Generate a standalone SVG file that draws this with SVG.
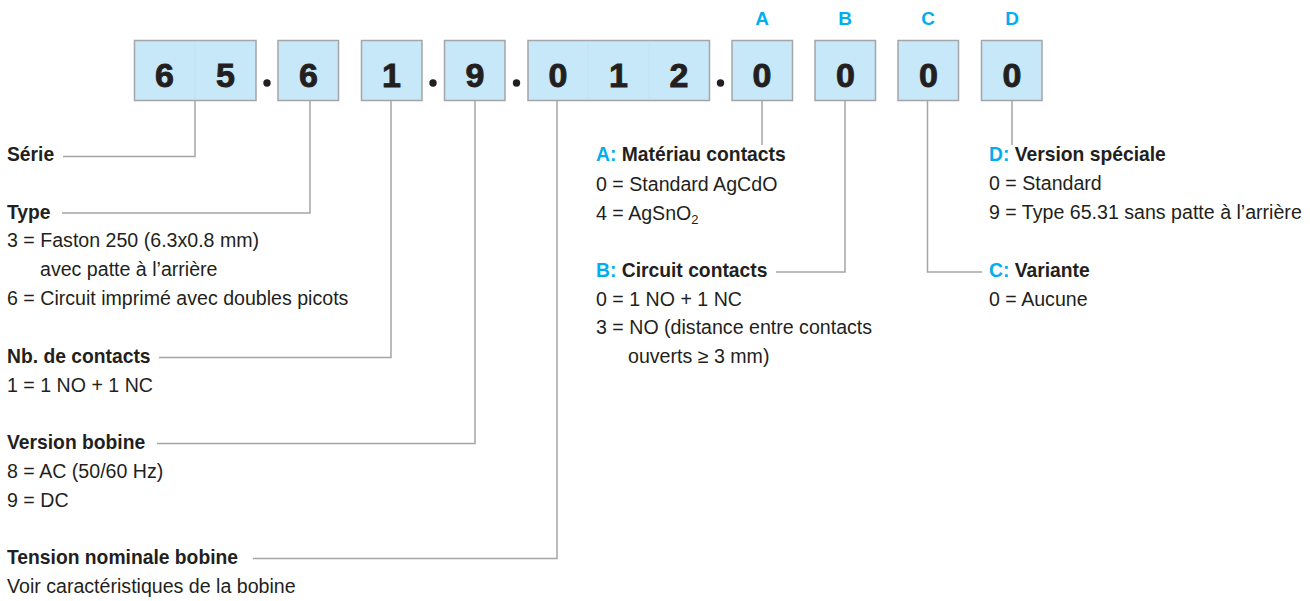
<svg xmlns="http://www.w3.org/2000/svg" width="1310" height="601" viewBox="0 0 1310 601">
<style>
.bx{fill:#c6e8f8;stroke:#a3a5a8;stroke-width:1.5}
.dv{stroke:#c0e3f4;stroke-width:1}
.dg{font-family:"Liberation Sans",Arial,sans-serif;font-weight:bold;font-size:34px;fill:#231f20;stroke:#231f20;stroke-width:0.9;text-anchor:middle}
.lt{font-family:"Liberation Sans",Arial,sans-serif;font-weight:bold;font-size:19px;fill:#00aeef;text-anchor:middle}
.dot{fill:#231f20}
.h{font-family:"Liberation Sans",Arial,sans-serif;font-weight:bold;font-size:19.3px;fill:#231f20}
.t{font-family:"Liberation Sans",Arial,sans-serif;font-size:19.6px;fill:#231f20}
.c{fill:#00aeef}
.ln{fill:none;stroke:#a3a5a8;stroke-width:1.5}
</style>
<g id="code">
<g id="box-65"><rect class="bx" x="134.5" y="40.5" width="121.5" height="60"/><line class="dv" x1="195" y1="41.5" x2="195" y2="99.5"/><text class="dg" x="164.5" y="87">6</text><text class="dg" x="225.5" y="87">5</text></g>
<circle class="dot" cx="267" cy="83" r="3.7"/>
<g id="box-6"><rect class="bx" x="278" y="40.5" width="60.5" height="60"/><text class="dg" x="308.5" y="87">6</text></g>
<g id="box-1"><rect class="bx" x="361.5" y="40.5" width="60.5" height="60"/><text class="dg" x="391.5" y="87">1</text></g>
<circle class="dot" cx="433" cy="83" r="3.7"/>
<g id="box-9"><rect class="bx" x="444.5" y="40.5" width="60.5" height="60"/><text class="dg" x="475" y="87">9</text></g>
<circle class="dot" cx="516.5" cy="83" r="3.7"/>
<g id="box-012"><rect class="bx" x="528" y="40.5" width="181.5" height="60"/><line class="dv" x1="588" y1="41.5" x2="588" y2="99.5"/><line class="dv" x1="649" y1="41.5" x2="649" y2="99.5"/><text class="dg" x="558" y="87">0</text><text class="dg" x="618.5" y="87">1</text><text class="dg" x="679" y="87">2</text></g>
<circle class="dot" cx="720.5" cy="83" r="3.7"/>
<g id="box-A"><text class="lt" x="762" y="25">A</text><rect class="bx" x="732" y="40.5" width="60.5" height="60"/><text class="dg" x="762" y="87">0</text></g>
<g id="box-B"><text class="lt" x="845" y="25">B</text><rect class="bx" x="815" y="40.5" width="60.5" height="60"/><text class="dg" x="845.5" y="87">0</text></g>
<g id="box-C"><text class="lt" x="928" y="25">C</text><rect class="bx" x="898" y="40.5" width="60.5" height="60"/><text class="dg" x="928.5" y="87">0</text></g>
<g id="box-D"><text class="lt" x="1012" y="25">D</text><rect class="bx" x="981.5" y="40.5" width="60.5" height="60"/><text class="dg" x="1012" y="87">0</text></g>
</g>
<g id="connectors">
<polyline class="ln" points="63,156.5 195,156.5 195,101"/>
<polyline class="ln" points="62,213 310,213 310,101"/>
<polyline class="ln" points="159,357.5 391,357.5 391,101"/>
<polyline class="ln" points="157,443.5 475,443.5 475,101"/>
<polyline class="ln" points="253,558.5 557,558.5 557,101"/>
<polyline class="ln" points="762,101 762,145"/>
<polyline class="ln" points="776,272 845,272 845,101"/>
<polyline class="ln" points="982,272 927.5,272 927.5,101"/>
<polyline class="ln" points="1012,101 1012,145"/>
</g>
<g id="serie"><text class="h" x="7" y="161">Série</text></g>
<g id="type"><text class="h" x="7" y="219">Type</text>
<text class="t" x="7" y="247">3 = Faston 250 (6.3x0.8 mm)</text>
<text class="t" x="40" y="276">avec patte à l’arrière</text>
<text class="t" x="7" y="305">6 = Circuit imprimé avec doubles picots</text></g>
<g id="contacts"><text class="h" x="7" y="363">Nb. de contacts</text>
<text class="t" x="7" y="392">1 = 1 NO + 1 NC</text></g>
<g id="bobine"><text class="h" x="7" y="449">Version bobine</text>
<text class="t" x="7" y="478">8 = AC (50/60 Hz)</text>
<text class="t" x="7" y="507">9 = DC</text></g>
<g id="tension"><text class="h" x="7" y="564">Tension nominale bobine</text>
<text class="t" x="7" y="593">Voir caractéristiques de la bobine</text></g>
<g id="A"><text class="h" x="596" y="161"><tspan class="c">A:</tspan> Matériau contacts</text>
<text class="t" x="596" y="191">0 = Standard AgCdO</text>
<text class="t" x="596" y="220">4 = AgSnO<tspan font-size="13" dy="4">2</tspan></text></g>
<g id="B"><text class="h" x="596" y="277"><tspan class="c">B:</tspan> Circuit contacts</text>
<text class="t" x="596" y="306">0 = 1 NO + 1 NC</text>
<text class="t" x="596" y="334">3 = NO (distance entre contacts</text>
<text class="t" x="628" y="363">ouverts ≥ 3 mm)</text></g>
<g id="D"><text class="h" x="989" y="161"><tspan class="c">D:</tspan> Version spéciale</text>
<text class="t" x="989" y="190">0 = Standard</text>
<text class="t" x="989" y="219">9 = Type 65.31 sans patte à l’arrière</text></g>
<g id="C"><text class="h" x="989" y="277"><tspan class="c">C:</tspan> Variante</text>
<text class="t" x="989" y="306">0 = Aucune</text></g>
</svg>
